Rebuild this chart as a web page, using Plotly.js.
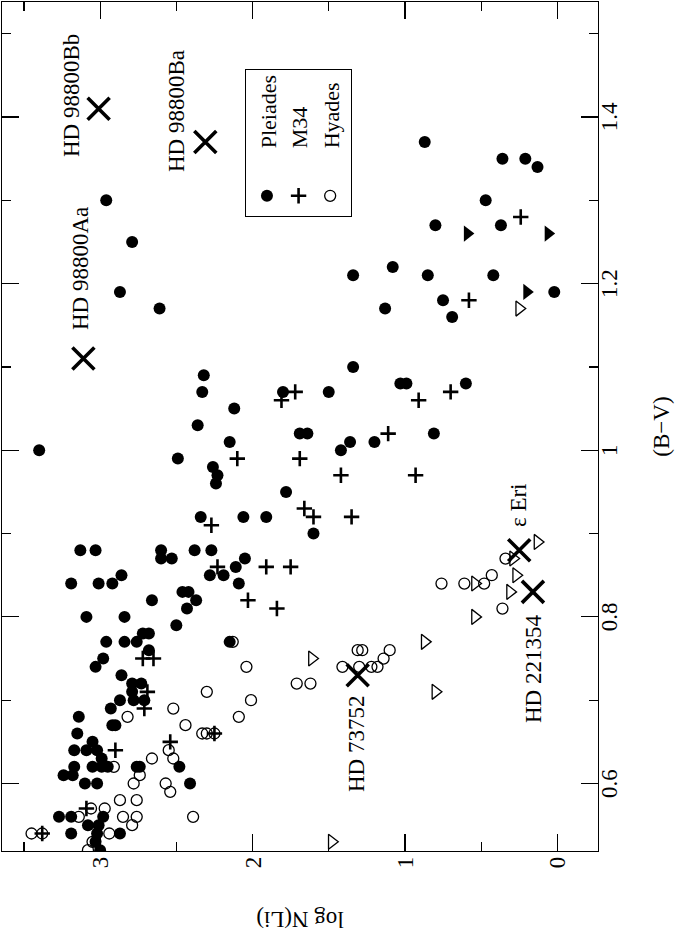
<!DOCTYPE html>
<html>
<head>
<meta charset="utf-8">
<script src="https://cdn.plot.ly/plotly-3.0.1.min.js"></script>
<style>
  html, body { margin: 0; padding: 0; background: #fff; overflow: hidden; }
  #page { position: relative; width: 678px; height: 932px; overflow: hidden; }
  /* the figure is a landscape plot turned a quarter turn counter-clockwise */
  #chart {
    position: absolute; left: 0; top: 0;
    width: 932px; height: 678px;
    transform-origin: 0 0;
    transform: translate(0, 932px) rotate(-90deg);
  }
</style>
</head>
<body>
<div id="page"><div id="chart"></div></div>
<script>
// Pleiades detections
const pleiadesBV = [1.30,1.25,1.19,1.37,1.35,1.35,1.34,1.30,1.27,1.27,1.21,1.22,1.21,1.21,1.19,1.18,1.16,1.17,1.17,1.00,
  1.09,1.07,1.05,1.03,1.01,0.99,0.98,0.97,0.96,1.07,1.07,1.02,1.02,1.00,1.01,1.01,1.10,1.08,1.08,1.08,
  1.02,0.95,0.90,0.92,0.92,0.92,0.88,0.88,0.88,0.87,0.87,0.88,0.88,0.87,0.86,0.85,0.85,0.84,0.84,0.84,
  0.84,0.85,0.83,0.83,0.82,0.82,0.81,0.80,0.80,0.79,0.78,0.78,0.77,0.77,0.77,0.77,0.76,0.75,0.74,0.73,
  0.72,0.72,0.71,0.70,0.70,0.70,0.69,0.68,0.67,0.67,0.66,0.65,0.64,0.64,0.64,0.63,0.62,0.61,0.61,0.62,
  0.62,0.62,0.62,0.62,0.62,0.60,0.60,0.60,0.56,0.56,0.56,0.55,0.55,0.54,0.54,0.54,0.53,0.52];
const pleiadesLi = [2.96,2.79,2.87,0.87,0.36,0.21,0.13,0.47,0.80,0.37,1.34,1.08,0.85,0.42,0.02,0.75,0.69,1.13,2.61,3.40,
  2.32,2.33,2.12,2.36,2.15,2.49,2.26,2.23,2.24,1.80,1.50,1.69,1.64,1.42,1.36,1.20,1.34,1.03,0.99,0.60,
  0.81,1.78,1.60,2.34,2.06,1.91,3.13,3.03,2.60,2.60,2.53,2.38,2.27,2.05,2.11,2.28,2.19,2.09,3.19,3.01,
  2.92,2.86,2.46,2.42,2.66,2.37,2.43,3.09,2.84,2.50,2.72,2.68,2.96,2.84,2.76,2.15,2.68,2.98,3.03,2.86,
  2.79,2.73,2.79,2.87,2.78,2.71,2.93,3.14,2.92,2.90,3.15,3.05,3.17,3.09,3.02,2.99,3.17,3.24,3.18,3.05,
  2.99,2.95,2.76,2.74,2.48,3.10,3.02,2.41,3.27,3.19,2.98,3.08,3.01,3.19,3.02,2.87,3.03,3.00];

// Pleiades upper limits
const pleiadesLimBV = [1.26,1.26,1.19];
const pleiadesLimLi = [0.59,0.06,0.20];

// M34
const m34BV = [1.28,1.18,1.07,1.06,0.99,0.99,1.06,1.07,1.02,0.97,0.97,0.92,0.93,0.92,0.91,0.86,0.86,0.86,0.82,0.81,
  0.75,0.75,0.71,0.69,0.66,0.65,0.64,0.57,0.54];
const m34Li = [0.24,0.58,1.72,1.81,2.10,1.69,0.91,0.70,1.11,1.42,0.93,1.35,1.66,1.60,2.27,2.23,1.91,1.75,2.03,1.84,
  2.72,2.65,2.69,2.71,2.25,2.54,2.90,3.09,3.38];

// Hyades detections
const hyadesBV = [0.87,0.85,0.84,0.84,0.84,0.81,0.77,0.74,0.72,0.72,0.74,0.76,0.76,0.74,0.74,0.75,0.76,0.74,0.71,0.70,
  0.68,0.69,0.68,0.67,0.66,0.66,0.66,0.64,0.63,0.63,0.62,0.61,0.60,0.60,0.59,0.58,0.58,0.57,0.57,0.56,
  0.56,0.56,0.55,0.56,0.54,0.54,0.54,0.52,0.53];
const hyadesLi = [0.34,0.43,0.76,0.61,0.48,0.36,2.13,2.04,1.71,1.62,1.41,1.31,1.28,1.22,1.18,1.14,1.10,1.30,2.30,2.01,
  2.09,2.52,2.82,2.44,2.33,2.30,2.25,2.55,2.66,2.52,2.91,2.74,2.78,2.57,2.54,2.87,2.76,3.06,2.97,3.14,
  2.85,2.76,2.79,2.39,3.45,3.38,2.94,3.08,3.05];

// Hyades upper limits
const hyadesLimBV = [1.17,0.89,0.87,0.85,0.84,0.83,0.80,0.77,0.71,0.75,0.53];
const hyadesLimLi = [0.25,0.13,0.29,0.27,0.54,0.31,0.54,0.87,0.80,1.61,1.48];

// individual stars
const starNames = ["HD 98800Bb","HD 98800Ba","HD 98800Aa","ε Eri","HD 221354","HD 73752"];
const starBV = [1.41,1.37,1.11,0.88,0.83,0.73];
const starLi = [3.01,2.31,3.11,0.25,0.16,1.31];
const labelBV = [1.426,1.407,1.218,0.934,0.738,0.647];
const labelLi = [3.19,2.50,3.13,0.256,0.155,1.316];

// axes
const bvTicks = [0.6,0.8,1.0,1.2,1.4];
const bvTickText = ["0.6","0.8","1","1.2","1.4"];
const bvMinor = [0.7,0.9,1.1,1.3,1.5];
const liTicks = [0,1,2,3];
const liTickText = ["0","1","2","3"];
const liMinor = [0.5,1.5,2.5,3.5];

const FONT = "Liberation Serif, Times New Roman, serif";
const PAD = "\u00a0\u00a0\u00a0\u00a0\u00a0"; // gap between legend symbol and name

const traces = [
  { x: pleiadesBV, y: pleiadesLi, type: "scatter", mode: "markers", name: PAD + "Pleiades",
    marker: { symbol: "circle", size: 12, color: "#000" } },
  { x: m34BV, y: m34Li, type: "scatter", mode: "markers", name: PAD + "M34",
    marker: { symbol: "cross-thin-open", size: 11, color: "#000", line: { color: "#000", width: 2.6 } } },
  { x: hyadesBV, y: hyadesLi, type: "scatter", mode: "markers", name: PAD + "Hyades",
    marker: { symbol: "circle-open", size: 11, color: "#000", line: { color: "#000", width: 1.3 } } },
  { x: pleiadesLimBV, y: pleiadesLimLi, type: "scatter", mode: "markers", showlegend: false,
    marker: { symbol: "triangle-down", size: 14, color: "#000" } },
  { x: hyadesLimBV, y: hyadesLimLi, type: "scatter", mode: "markers", showlegend: false,
    marker: { symbol: "triangle-down-open", size: 13, color: "#000", line: { color: "#000", width: 1.3 } } },
  { x: starBV, y: starLi, type: "scatter", mode: "markers", showlegend: false,
    marker: { symbol: "x-thin-open", size: 22, color: "#000", line: { color: "#000", width: 3.6 } } },
];

const annotations = starNames.map((name, i) => ({
  x: labelBV[i], y: labelLi[i], xref: "x", yref: "y",
  text: name, showarrow: false, xanchor: "center", yanchor: "middle",
  font: { family: FONT, size: 23, color: "#000" },
}));

const axisCommon = {
  ticks: "inside", ticklen: 17, tickwidth: 1.2, tickcolor: "#000",
  showline: true, linecolor: "#000", linewidth: 1.2, mirror: "ticks",
  showgrid: false, zeroline: false,
  tickfont: { family: FONT, size: 23, color: "#000" },
};

const layout = {
  width: 932, height: 678,
  margin: { l: 81, r: 2, t: 2, b: 80 },
  paper_bgcolor: "#fff", plot_bgcolor: "#fff",
  font: { family: FONT, size: 23, color: "#000" },
  showlegend: true,
  legend: {
    x: 0.747, y: 0.592, xanchor: "left", yanchor: "top",
    bordercolor: "#000", borderwidth: 1, bgcolor: "#fff",
    font: { family: FONT, size: 22, color: "#000" },
    itemwidth: 30, tracegroupgap: 0,
  },
  xaxis: Object.assign({}, axisCommon, {
    range: [0.519, 1.538],
    tickmode: "array", tickvals: bvTicks, ticktext: bvTickText,
    ticklabelstandoff: -10,
    minor: { tickmode: "array", tickvals: bvMinor, ticks: "inside", ticklen: 9, tickwidth: 1.2, tickcolor: "#000" },
    title: { text: "(B−V)", font: { family: FONT, size: 23, color: "#000" }, standoff: 32 },
  }),
  yaxis: Object.assign({}, axisCommon, {
    range: [-0.267, 3.644],
    tickmode: "array", tickvals: liTicks, ticktext: liTickText,
    minor: { tickmode: "array", tickvals: liMinor, ticks: "inside", ticklen: 9, tickwidth: 1.2, tickcolor: "#000" },
    title: { text: "log N(Li)", font: { family: FONT, size: 23, color: "#000" }, standoff: 42 },
  }),
  annotations: annotations,
};

Plotly.newPlot("chart", traces, layout, { staticPlot: true, displayModeBar: false });
</script>
</body>
</html>
